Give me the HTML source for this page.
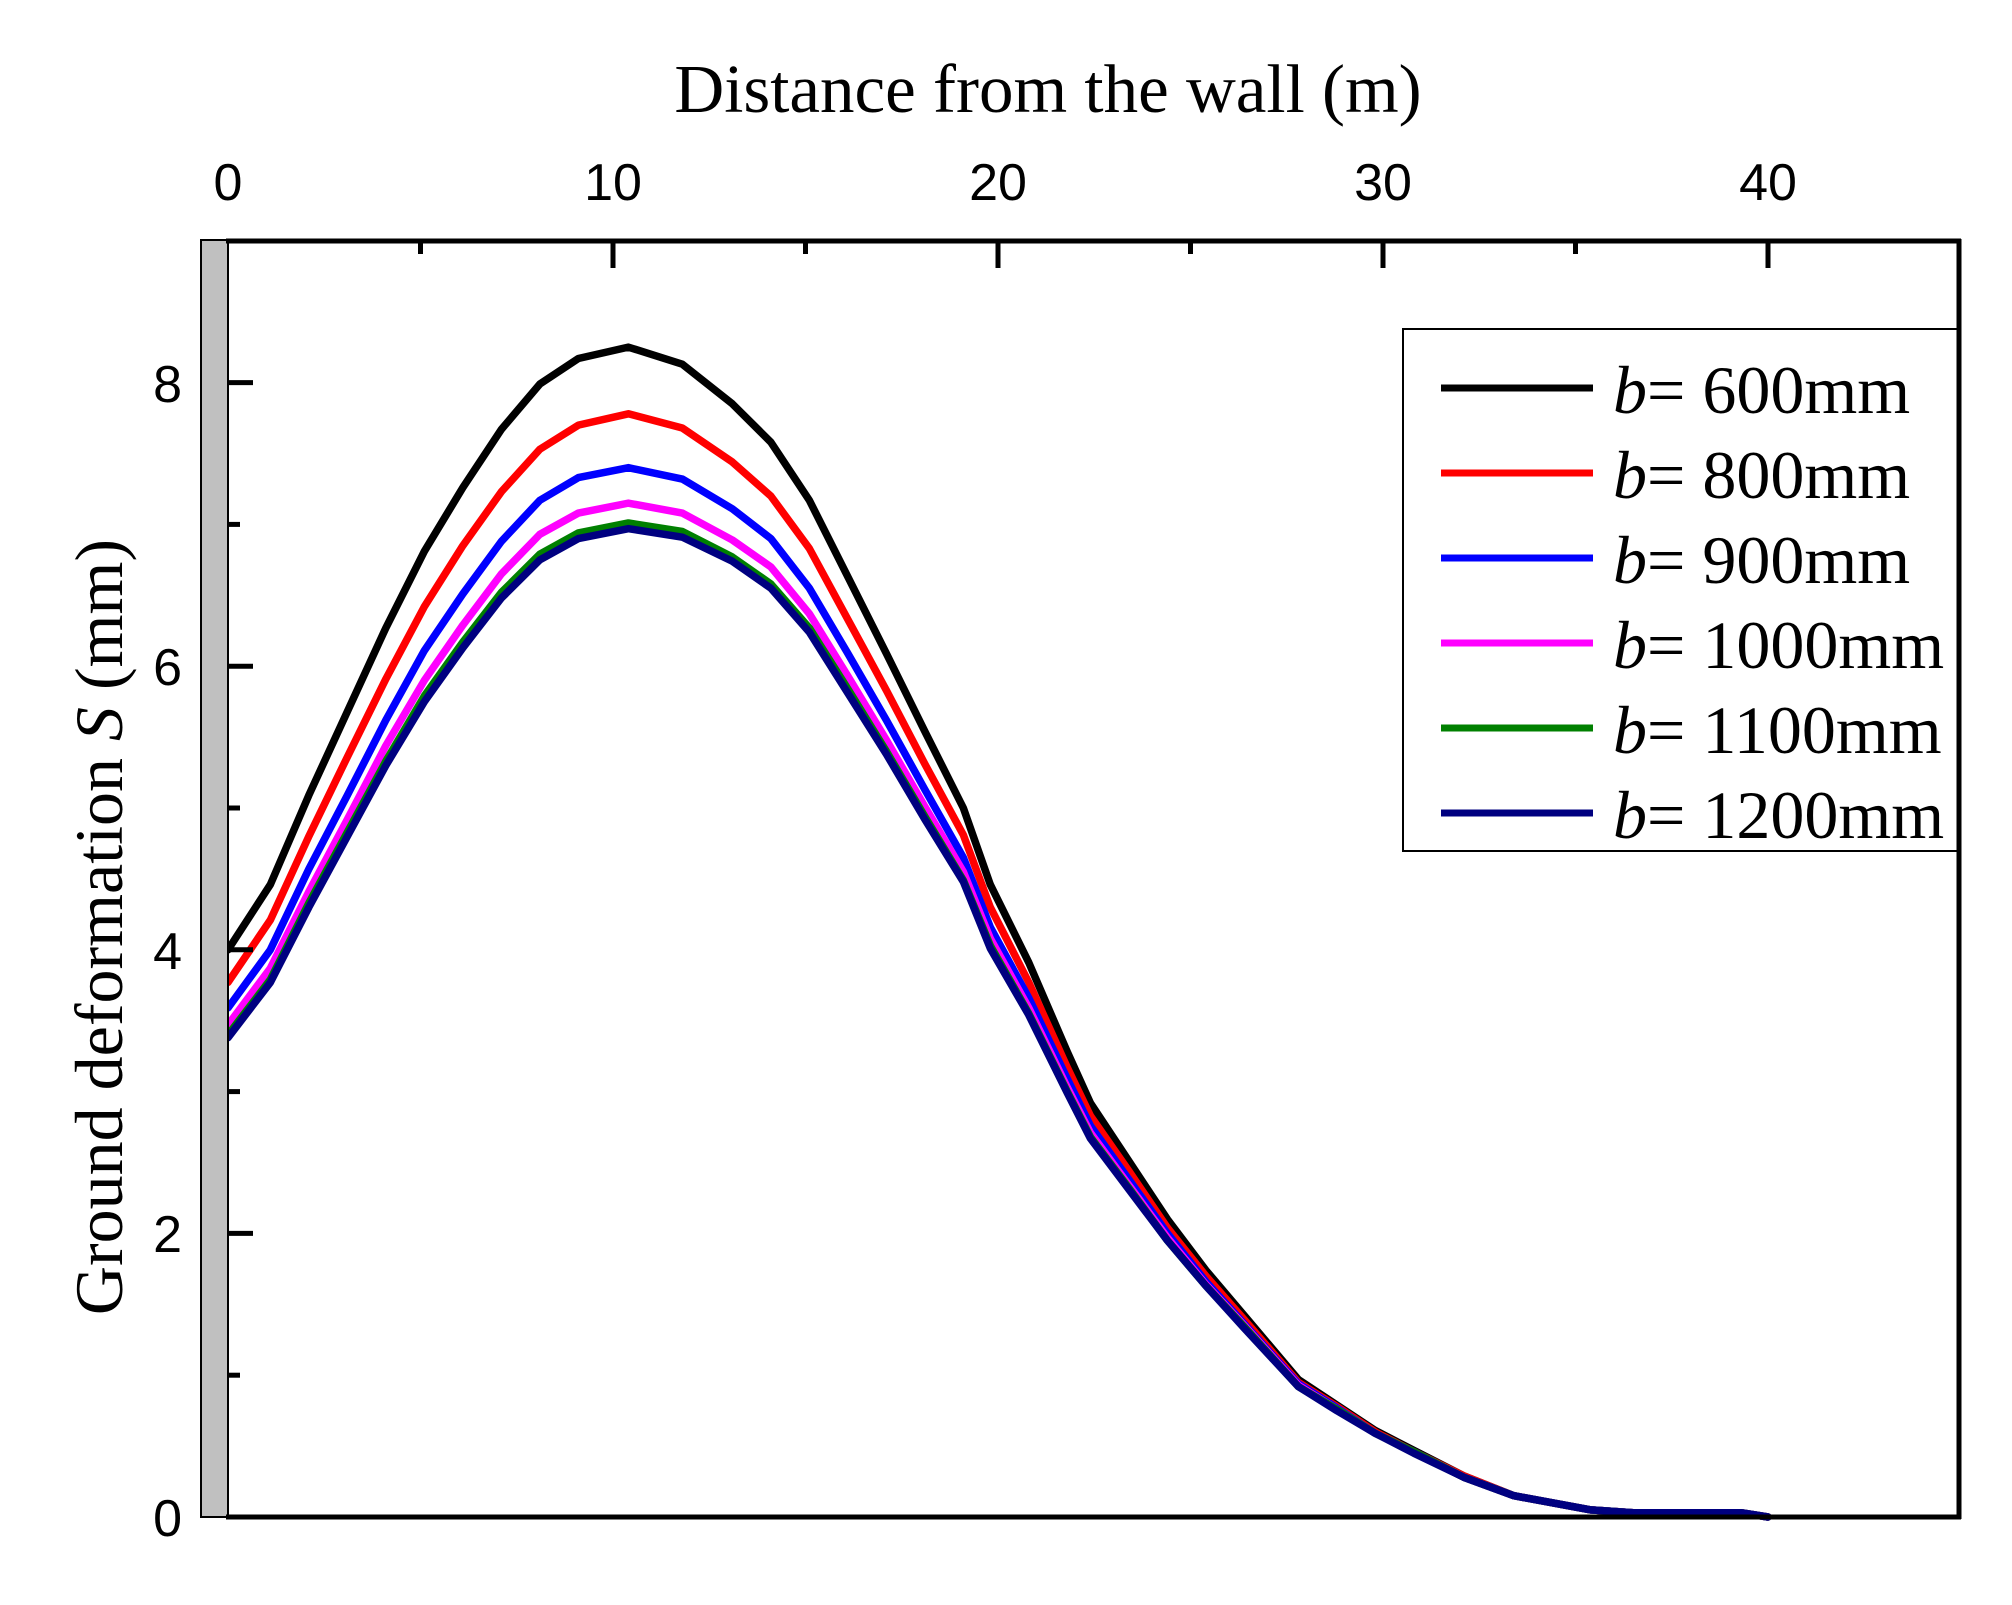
<!DOCTYPE html>
<html><head><meta charset="utf-8"><style>
html,body{margin:0;padding:0;background:#fff}
svg{display:block}
</style></head><body>
<svg width="2012" height="1605" xmlns="http://www.w3.org/2000/svg">
<rect x="0" y="0" width="2012" height="1605" fill="#fff"/>
<text x="1048" y="112" font-family="Liberation Serif, serif" font-size="69" text-anchor="middle">Distance from the wall (m)</text>
<text transform="translate(122,927) rotate(-90)" font-family="Liberation Serif, serif" font-size="68" text-anchor="middle">Ground deformation <tspan font-style="italic">S</tspan> (mm)</text>
<g font-family="Liberation Sans, sans-serif" font-size="52" text-anchor="middle">
<text x="228" y="200">0</text><text x="613" y="200">10</text><text x="998" y="200">20</text><text x="1383" y="200">30</text><text x="1768" y="200">40</text>
</g>
<g font-family="Liberation Sans, sans-serif" font-size="52" text-anchor="end">
<text x="182" y="1536">0</text><text x="182" y="1252">2</text><text x="182" y="969">4</text><text x="182" y="685">6</text><text x="182" y="402">8</text>
</g>
<g transform="translate(228,1517) scale(38.5,-141.8)" fill="none" stroke-width="7.5" stroke-linejoin="round" stroke-linecap="round">
<polyline vector-effect="non-scaling-stroke" stroke="#000" points="0,4.0 1.1,4.46 2.1,5.09 3.1,5.68 4.1,6.27 5.1,6.81 6.1,7.26 7.1,7.67 8.1,7.99 9.1,8.17 10.4,8.25 11.8,8.13 13.1,7.85 14.1,7.58 15.1,7.17 16.1,6.63 17.1,6.09 18.1,5.54 19.1,5.0 19.8,4.46 20.8,3.91 21.8,3.28 22.4,2.92 23.4,2.51 24.4,2.1 25.4,1.74 26.4,1.42 27.8,0.97 28.8,0.79 29.8,0.61 30.8,0.47 32.1,0.29 33.4,0.15 35.4,0.05 36.5,0.03 39.3,0.03 40,0"/>
<polyline vector-effect="non-scaling-stroke" stroke="#ff0000" points="0,3.77 1.1,4.21 2.1,4.80 3.1,5.36 4.1,5.91 5.1,6.42 6.1,6.85 7.1,7.23 8.1,7.53 9.1,7.70 10.4,7.78 11.8,7.68 13.1,7.44 14.1,7.20 15.1,6.83 16.1,6.33 17.1,5.83 18.1,5.31 19.1,4.81 19.8,4.30 20.8,3.77 21.8,3.17 22.4,2.83 23.4,2.44 24.4,2.04 25.4,1.70 26.4,1.39 27.8,0.95 28.8,0.78 29.8,0.60 30.8,0.46 32.1,0.29 33.4,0.15 35.4,0.05 36.5,0.03 39.3,0.03 40,0"/>
<polyline vector-effect="non-scaling-stroke" stroke="#0000ff" points="0,3.59 1.1,4.00 2.1,4.57 3.1,5.09 4.1,5.62 5.1,6.11 6.1,6.51 7.1,6.88 8.1,7.17 9.1,7.33 10.4,7.40 11.8,7.32 13.1,7.11 14.1,6.90 15.1,6.55 16.1,6.09 17.1,5.62 18.1,5.13 19.1,4.65 19.8,4.16 20.8,3.66 21.8,3.09 22.4,2.76 23.4,2.38 24.4,2.00 25.4,1.66 26.4,1.36 27.8,0.94 28.8,0.77 29.8,0.59 30.8,0.46 32.1,0.28 33.4,0.15 35.4,0.05 36.5,0.03 39.3,0.03 40,0"/>
<polyline vector-effect="non-scaling-stroke" stroke="#ff00ff" points="0,3.47 1.1,3.87 2.1,4.41 3.1,4.92 4.1,5.44 5.1,5.90 6.1,6.29 7.1,6.65 8.1,6.93 9.1,7.08 10.4,7.15 11.8,7.08 13.1,6.89 14.1,6.70 15.1,6.37 16.1,5.93 17.1,5.48 18.1,5.01 19.1,4.55 19.8,4.08 20.8,3.59 21.8,3.03 22.4,2.71 23.4,2.34 24.4,1.97 25.4,1.64 26.4,1.35 27.8,0.93 28.8,0.76 29.8,0.59 30.8,0.46 32.1,0.28 33.4,0.15 35.4,0.05 36.5,0.03 39.3,0.03 40,0"/>
<polyline vector-effect="non-scaling-stroke" stroke="#008000" points="0,3.40 1.1,3.79 2.1,4.33 3.1,4.83 4.1,5.33 5.1,5.79 6.1,6.17 7.1,6.52 8.1,6.79 9.1,6.94 10.4,7.01 11.8,6.95 13.1,6.77 14.1,6.58 15.1,6.27 16.1,5.84 17.1,5.40 18.1,4.94 19.1,4.49 19.8,4.03 20.8,3.55 21.8,3.00 22.4,2.68 23.4,2.32 24.4,1.95 25.4,1.63 26.4,1.34 27.8,0.92 28.8,0.76 29.8,0.59 30.8,0.46 32.1,0.28 33.4,0.15 35.4,0.05 36.5,0.03 39.3,0.03 40,0"/>
<polyline vector-effect="non-scaling-stroke" stroke="#000080" points="0,3.38 1.1,3.77 2.1,4.30 3.1,4.80 4.1,5.30 5.1,5.75 6.1,6.13 7.1,6.48 8.1,6.75 9.1,6.90 10.4,6.97 11.8,6.91 13.1,6.74 14.1,6.55 15.1,6.24 16.1,5.81 17.1,5.38 18.1,4.92 19.1,4.48 19.8,4.01 20.8,3.54 21.8,2.99 22.4,2.67 23.4,2.31 24.4,1.95 25.4,1.63 26.4,1.33 27.8,0.92 28.8,0.75 29.8,0.59 30.8,0.45 32.1,0.28 33.4,0.15 35.4,0.05 36.5,0.03 39.3,0.03 40,0"/>
</g>
<rect x="201" y="240" width="27" height="1277" fill="#c0c0c0" stroke="#000" stroke-width="2"/>
<rect x="1403" y="329" width="556" height="522" fill="#fff" stroke="#000" stroke-width="2"/>
<g stroke="#000" stroke-width="5" fill="none">
<line x1="226" y1="241" x2="1961" y2="241"/>
<line x1="226" y1="1517" x2="1961" y2="1517"/>
<line x1="1959" y1="239" x2="1959" y2="1519"/>
<line x1="420.5" y1="241" x2="420.5" y2="254"/>
<line x1="613" y1="241" x2="613" y2="268"/>
<line x1="805.5" y1="241" x2="805.5" y2="254"/>
<line x1="998" y1="241" x2="998" y2="268"/>
<line x1="1190.5" y1="241" x2="1190.5" y2="254"/>
<line x1="1383" y1="241" x2="1383" y2="268"/>
<line x1="1575.5" y1="241" x2="1575.5" y2="254"/>
<line x1="1768" y1="241" x2="1768" y2="268"/>
<line x1="228" y1="1375.2" x2="240" y2="1375.2"/>
<line x1="228" y1="1233.4" x2="253" y2="1233.4"/>
<line x1="228" y1="1091.6" x2="240" y2="1091.6"/>
<line x1="228" y1="949.8" x2="253" y2="949.8"/>
<line x1="228" y1="808" x2="240" y2="808"/>
<line x1="228" y1="666.2" x2="253" y2="666.2"/>
<line x1="228" y1="524.4" x2="240" y2="524.4"/>
<line x1="228" y1="382.6" x2="253" y2="382.6"/>
</g>
<g font-family="Liberation Serif, serif" font-size="68">
<line x1="1441" y1="388" x2="1593" y2="388" stroke="#000" stroke-width="7"/>
<text x="1613" y="413"><tspan font-style="italic">b</tspan>= 600mm</text>
<line x1="1441" y1="473" x2="1593" y2="473" stroke="#ff0000" stroke-width="7"/>
<text x="1613" y="498"><tspan font-style="italic">b</tspan>= 800mm</text>
<line x1="1441" y1="558" x2="1593" y2="558" stroke="#0000ff" stroke-width="7"/>
<text x="1613" y="583"><tspan font-style="italic">b</tspan>= 900mm</text>
<line x1="1441" y1="643" x2="1593" y2="643" stroke="#ff00ff" stroke-width="7"/>
<text x="1613" y="668"><tspan font-style="italic">b</tspan>= 1000mm</text>
<line x1="1441" y1="728" x2="1593" y2="728" stroke="#008000" stroke-width="7"/>
<text x="1613" y="753"><tspan font-style="italic">b</tspan>= 1100mm</text>
<line x1="1441" y1="813" x2="1593" y2="813" stroke="#000080" stroke-width="7"/>
<text x="1613" y="838"><tspan font-style="italic">b</tspan>= 1200mm</text>
</g>
</svg>
</body></html>
